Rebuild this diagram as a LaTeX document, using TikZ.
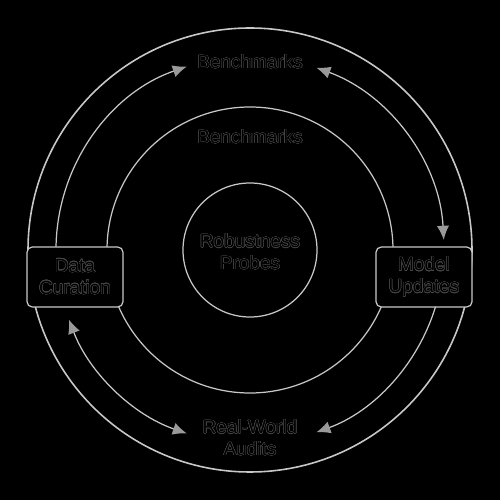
\documentclass[tikz,border=0pt]{standalone}
\usepackage{fontspec}
\setmainfont{Liberation Sans}
\usepackage{contour}
\contourlength{0.25pt}
\usetikzlibrary{arrows.meta}
\definecolor{ring}{HTML}{C8C8C8}
\definecolor{tipgray}{HTML}{9A9A9A}
\definecolor{edgegray}{HTML}{484848}
\newcommand{\olt}[1]{\contour{edgegray}{#1}}
\begin{document}
\begin{tikzpicture}[
  ring/.style={draw=ring, line width=0.7pt},
  head/.tip={Latex[length=8pt, width=7pt, color=tipgray]},
  flow/.style={ring, -head},
  flowboth/.style={ring, head-head},
  label/.style={text=black, font=\fontsize{10.8}{12.5}\selectfont, align=center},
  stage/.style={label, draw=ring, fill=black, rounded corners=3pt, line width=0.7pt,
    minimum width=1.92cm, minimum height=1.2cm}
]
  \fill[black] (-5,-5) rectangle (5,5);
  \draw[ring, line width=0.9pt] (0,0) circle (4.44);
  \draw[ring] (0,0) circle (2.86);
  \draw[ring] (0,0) circle (1.34);
  % labels
  \node[label] at (0, 3.76) (bench) {\olt{Benchmarks}};
  \node[label] at (0, 2.26) (benchin) {\olt{Benchmarks}};
  \node[label] at (0, -0.04) (probes) {\olt{Robustness}\\\olt{Probes}};
  \node[label] at (0, -3.76) (audits) {\olt{Real-World}\\\olt{Audits}};
  \node[stage] at (-3.5, -0.54) (data) {\olt{Data}\\\olt{Curation}};
  \node[stage] at (3.48, -0.54) (model) {\olt{Model}\\\olt{Updates}};
  % arcs
  \coordinate (dc) at (179:3.88);
  \coordinate (bm) at (70:3.88);
  \coordinate (mu) at (-17:3.88);
  \coordinate (ra) at (201:3.88);
  \draw[flow] (dc) arc[start angle=179, end angle=109, radius=3.88];
  \draw[flowboth] (bm) arc[start angle=70, end angle=3, radius=3.88];
  \draw[flow] (mu) arc[start angle=-17, end angle=-70, radius=3.88];
  \draw[flowboth] (ra) arc[start angle=201, end angle=251, radius=3.88];
\end{tikzpicture}
\end{document}
